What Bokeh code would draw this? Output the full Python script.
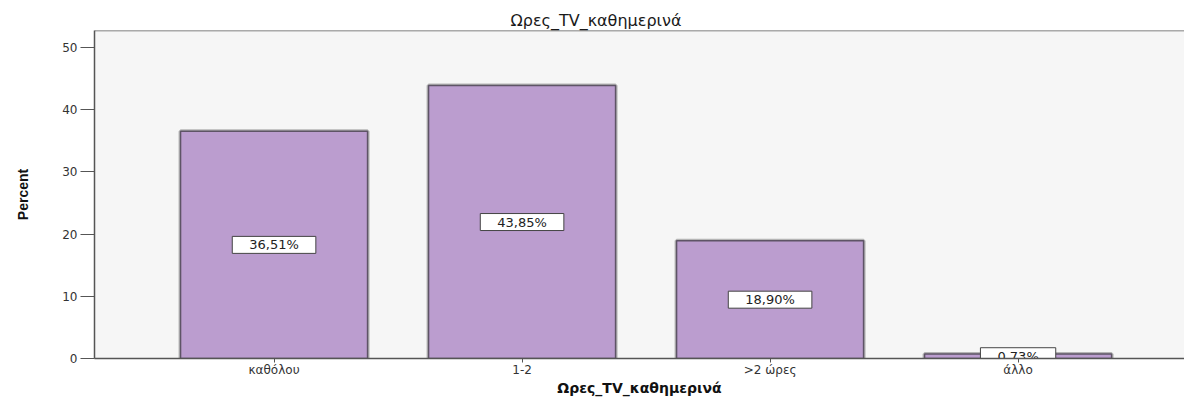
from bokeh.plotting import figure
from bokeh.models import FixedTicker, Range1d, Span, ColumnDataSource
from bokeh.core.properties import value
from bokeh.embed import file_html
from bokeh.resources import INLINE

# ---- data ----
categories = ["καθόλου", "1-2", ">2 ώρες", "άλλο"]
percents = [36.51, 43.85, 18.90, 0.73]
percent_labels = ["36,51%", "43,85%", "18,90%", "0,73%"]
y_ticks = [0, 10, 20, 30, 40, 50]
title_text = "Ωρες_TV_καθημερινά"
x_title = "Ωρες_TV_καθημερινά"
y_title = "Percent"

xs = list(range(1, len(categories) + 1))
src = ColumnDataSource(dict(
    x=xs, top=percents, mid=[v / 2 for v in percents], lab=percent_labels))

p = figure(width=1184, height=398, output_backend="svg", toolbar_location=None,
           x_range=Range1d(0.276, 4.671), y_range=Range1d(0, 52.7),
           min_border_left=94, min_border_right=0, min_border_top=30,
           min_border_bottom=38)

p.background_fill_color = "#f6f6f6"
p.border_fill_color = "white"
p.outline_line_color = None
p.grid.visible = False

p.title.text = title_text
p.title.align = "left"
p.title.offset = 416
p.title.text_font = "DejaVu Sans"
p.title.text_font_size = "16px"
p.title.text_font_style = "normal"
p.title.text_color = "#1a1a1a"
p.title.standoff = 2

# bars: soft halo then main bar
p.vbar(x="x", top="top", width=0.754, bottom=0, source=src,
       fill_color=None, line_color="#b5b5b5", line_width=4)
p.vbar(x="x", top="top", width=0.754, bottom=0, source=src,
       fill_color="#bb9dcf", line_color="#5e5466", line_width=1.5)

# value labels
p.text(x="x", y="mid", text="lab", source=src,
       text_font=value("DejaVu Sans"), text_font_size="13px",
       text_color="#222222", text_align="center", text_baseline="middle",
       background_fill_color="white", border_line_color="#444444",
       border_line_width=1, padding=(17, 1))

# top frame border
p.add_layout(Span(location=52.7, dimension="width", line_color="#5a5a5a",
                  line_width=1.5))

# axes
ya = p.yaxis[0]
ya.ticker = FixedTicker(ticks=y_ticks)
ya.major_tick_out = 14
ya.major_tick_in = 0
ya.minor_tick_line_color = None
ya.axis_line_color = "#555555"
ya.axis_line_width = 1.5
ya.major_tick_line_color = "#555555"
ya.major_label_text_font = "DejaVu Sans"
ya.major_label_text_font_size = "12px"
ya.major_label_text_color = "#333333"
ya.major_label_standoff = 3
ya.axis_label = y_title
ya.axis_label_text_font = "Liberation Sans"
ya.axis_label_text_font_size = "14px"
ya.axis_label_text_font_style = "bold"
ya.axis_label_text_color = "#111111"
ya.axis_label_standoff = 28

xa = p.xaxis[0]
xa.ticker = FixedTicker(ticks=xs)
xa.major_label_overrides = {x: c for x, c in zip(xs, categories)}
xa.major_tick_out = 4
xa.major_tick_in = 0
xa.minor_tick_line_color = None
xa.axis_line_color = "#555555"
xa.axis_line_width = 1.5
xa.major_tick_line_color = "#555555"
xa.major_label_text_font = "DejaVu Sans"
xa.major_label_text_font_size = "12px"
xa.major_label_text_color = "#333333"
xa.major_label_standoff = 0
xa.axis_label = x_title
xa.axis_label_text_font = "DejaVu Sans"
xa.axis_label_text_font_size = "14px"
xa.axis_label_text_font_style = "bold"
xa.axis_label_text_color = "#111111"
xa.axis_label_standoff = 0

open("out.html", "w").write(file_html(p, INLINE))
